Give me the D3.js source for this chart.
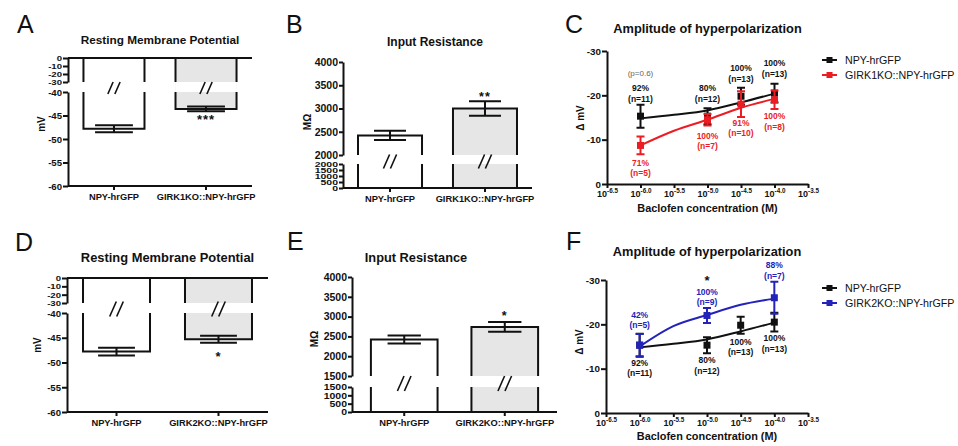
<!DOCTYPE html>
<html><head><meta charset="utf-8">
<script src="https://cdn.jsdelivr.net/npm/d3@7"></script>
<style>body{margin:0;background:#fff}svg{display:block}</style>
</head><body><script>
// ---------------- DATA ----------------
const rmpCatsA = ["NPY-hrGFP", "GIRK1KO::NPY-hrGFP"];
const rmpMeanA = [-47.8, -43.6];
const rmpSemA  = [0.75, 0.5];
const rmpCatsD = ["NPY-hrGFP", "GIRK2KO::NPY-hrGFP"];
const rmpMeanD = [-47.8, -45.3];
const rmpSemD  = [0.8, 0.7];
const rmpTicksUpper = [0, -10, -20, -30];
const rmpTicksLower = [-40, -45, -50, -55, -60];

const rinCatsB = ["NPY-hrGFP", "GIRK1KO::NPY-hrGFP"];
const rinMeanB = [2420, 3000];
const rinSemB  = [100, 155];
const rinCatsE = ["NPY-hrGFP", "GIRK2KO::NPY-hrGFP"];
const rinMeanE = [2420, 2740];
const rinSemE  = [100, 125];
const rinTicksUpperB = [2000, 2500, 3000, 3500, 4000];
const rinTicksLowerB = [0, 500, 1000, 1500, 2000];
const rinTicksUpperE = [1500, 2000, 2500, 3000, 3500, 4000];
const rinTicksLowerE = [0, 500, 1000, 1500];

const logConc   = [-6.0, -5.0, -4.5, -4.0];
const ampNpy    = [-15.3, -15.3, -19.8, -20.5];
const semNpy    = [2.6, 1.8, 1.9, 2.1];
const ampGirk1  = [-8.7, -14.5, -18.0, -19.0];
const semGirk1  = [2.0, 1.3, 2.9, 2.1];
const logConcG2 = [-6.0, -5.0, -4.0];
const ampGirk2  = [-15.3, -22.0, -26.0];
const semGirk2  = [2.5, 1.7, 3.6];
const fitConc   = [-6.0, -5.5, -5.0, -4.5, -4.0];
const fitNpy    = [-14.8, -15.6, -16.6, -18.4, -20.4];
const fitGirk1  = [-8.7, -12.0, -14.5, -17.2, -19.2];
const fitGirk2  = [-15.0, -19.6, -22.1, -24.4, -25.8];
const xTickExp  = [-6.5, -6.0, -5.5, -5.0, -4.5, -4.0, -3.5];
const ampTicks  = [0, -10, -20, -30];

// ---------------- STYLE ----------------
const FONT = "'Liberation Sans', Arial, Helvetica, sans-serif";
const INK = "#111";
const RED = "#ec1c24";
const BLUE = "#2323b9";
const GREYFILL = "#e6e6e6";

const svg = d3.select("body").append("svg").attr("width", 958).attr("height", 446);

function txt(g, x, y, s, o = {}) {
  return g.append("text").attr("x", x).attr("y", y).text(s)
    .attr("font-family", FONT).attr("font-size", o.size || 10)
    .attr("font-weight", o.weight || "bold")
    .attr("letter-spacing", o.ls || 0)
    .attr("text-anchor", o.anchor || "middle").attr("fill", o.fill || INK);
}
function vtxt(g, x, y, s, o = {}) {
  return g.append("text").attr("transform", `translate(${x},${y}) rotate(-90)`)
    .attr("text-anchor", "middle").attr("dominant-baseline", "central")
    .attr("font-family", FONT).attr("font-size", o.size || 10)
    .attr("font-weight", o.weight || "bold").attr("fill", INK).text(s);
}
function styleAxis(sel, fs, squash) {
  sel.selectAll("path,line").attr("stroke", INK).attr("stroke-width", 2);
  const t = sel.selectAll("text").attr("font-family", FONT).attr("font-size", fs)
    .attr("font-weight", "bold").attr("fill", INK);
  if (squash) t.attr("transform", `scale(1,${squash})`);
}
function slashes(g, cx, cy, h) {
  [-3.5, 3.5].forEach(o => {
    g.append("line").attr("x1", cx + o - h * 0.22).attr("y1", cy + h / 2)
      .attr("x2", cx + o + h * 0.22).attr("y2", cy - h / 2)
      .attr("stroke", INK).attr("stroke-width", 1.6);
  });
}
function letter(x, y, s) { txt(svg, x, y, s, { size: 25, weight: "normal", anchor: "start" }); }

// ---------------- RMP (hanging bars, broken axis) ----------------
function rmpPanel(cfg, cats, means, sems) {
  const g = svg.append("g");
  const x = d3.scaleBand().domain(cats).range([cfg.x0, cfg.x1])
    .paddingInner(cfg.pi).paddingOuter(cfg.po);
  const yU = d3.scaleLinear().domain([0, -30]).range([cfg.yTop, cfg.yB1]);
  const yL = d3.scaleLinear().domain([-40, -60]).range([cfg.yB2, cfg.yBot]);
  cats.forEach((c, i) => {
    const bx = x(c), bw = x.bandwidth(), yv = yL(means[i]), cx = bx + bw / 2;
    if (i === 1) {
      g.append("rect").attr("x", bx).attr("y", yU(0)).attr("width", bw)
        .attr("height", yv - yU(0)).attr("fill", GREYFILL);
      g.append("rect").attr("x", bx).attr("y", yU(-30)).attr("width", bw)
        .attr("height", yL(-40) - yU(-30)).attr("fill", "#fff");
    }
    g.append("path").attr("fill", "none").attr("stroke", INK).attr("stroke-width", 2)
      .attr("d", `M${bx},${yU(0)}V${yU(-30)}M${bx},${yL(-40)}V${yv}H${bx + bw}V${yL(-40)}M${bx + bw},${yU(-30)}V${yU(0)}`);
    const cw = bw * cfg.cap;
    const yHi = yL(means[i] + sems[i]), yLo = yL(means[i] - sems[i]);
    g.append("path").attr("fill", "none").attr("stroke", INK).attr("stroke-width", 2)
      .attr("d", `M${cx},${yHi}V${yLo}M${cx - cw / 2},${yHi}h${cw}M${cx - cw / 2},${yLo}h${cw}`);
    slashes(g, cx, (yU(-30) + yL(-40)) / 2 + 1, cfg.slashH);
    if (i === 1) txt(g, cx, yLo + cfg.starOff, cfg.star, { size: 13, ls: 1 });
  });
  g.append("line").attr("x1", cfg.x0).attr("x2", cfg.x1).attr("y1", yU(0)).attr("y2", yU(0))
    .attr("stroke", INK).attr("stroke-width", 2);
  const xa = g.append("g").attr("transform", `translate(0,${cfg.yBot})`)
    .call(d3.axisBottom(x).tickSize(4).tickSizeOuter(0).tickFormat(""));
  xa.select(".domain").attr("d", `M${cfg.x0},0H${cfg.x1}`);
  styleAxis(xa, 9);
  cats.forEach(c => txt(g, x(c) + x.bandwidth() / 2, cfg.yBot + 13.5, c, { size: 9.3 }));
  const f = d => String(d);
  const ay1 = g.append("g").attr("transform", `translate(${cfg.x0},0)`)
    .call(d3.axisLeft(yU).tickValues(rmpTicksUpper).tickFormat(f).tickSize(5).tickPadding(1).tickSizeOuter(0));
  const ay2 = g.append("g").attr("transform", `translate(${cfg.x0},0)`)
    .call(d3.axisLeft(yL).tickValues(rmpTicksLower).tickFormat(f).tickSize(5).tickPadding(1).tickSizeOuter(0));
  styleAxis(ay1, 9.6, cfg.squash); styleAxis(ay2, 9.6);
  txt(g, (cfg.x0 + cfg.x1) / 2, cfg.titleY, "Resting Membrane Potential", { size: cfg.titleSize });
  vtxt(g, cfg.labelX, cfg.labelY, "mV", { size: 10 });
}

// ---------------- Input resistance (broken axis) ----------------
function rinPanel(cfg, cats, means, sems, ticksU, ticksL) {
  const g = svg.append("g");
  const x = d3.scaleBand().domain(cats).range([cfg.x0, cfg.x1])
    .paddingInner(cfg.pi).paddingOuter(cfg.po);
  const yU = d3.scaleLinear().domain([cfg.brk, 4000]).range([cfg.yB1, cfg.yTop]);
  const yL = d3.scaleLinear().domain([0, cfg.brk]).range([cfg.yBot, cfg.yB2]);
  const gapTop = yU(cfg.brk), gapBot = yL(cfg.brk);
  cats.forEach((c, i) => {
    const bx = x(c), bw = x.bandwidth(), yv = yU(means[i]), cx = bx + bw / 2;
    if (i === 1) {
      g.append("rect").attr("x", bx).attr("y", yv).attr("width", bw)
        .attr("height", yL(0) - yv).attr("fill", GREYFILL);
      g.append("rect").attr("x", bx).attr("y", gapTop).attr("width", bw)
        .attr("height", gapBot - gapTop).attr("fill", "#fff");
    }
    g.append("path").attr("fill", "none").attr("stroke", INK).attr("stroke-width", 2)
      .attr("d", `M${bx},${yL(0)}V${gapBot}M${bx},${gapTop}V${yv}H${bx + bw}V${gapTop}M${bx + bw},${gapBot}V${yL(0)}`);
    const cw = bw * cfg.cap;
    const yHi = yU(means[i] + sems[i]), yLo = yU(means[i] - sems[i]);
    g.append("path").attr("fill", "none").attr("stroke", INK).attr("stroke-width", 2)
      .attr("d", `M${cx},${yHi}V${yLo}M${cx - cw / 2},${yHi}h${cw}M${cx - cw / 2},${yLo}h${cw}`);
    slashes(g, cx, (gapTop + gapBot) / 2 + 2, cfg.slashH);
    if (i === 1) txt(g, cx, yHi + cfg.starOff, cfg.star, { size: 12.5, ls: 1 });
  });
  const xa = g.append("g").attr("transform", `translate(0,${cfg.yBot})`)
    .call(d3.axisBottom(x).tickSize(4).tickSizeOuter(0).tickFormat(""));
  xa.select(".domain").attr("d", `M${cfg.x0},0H${cfg.x1}`);
  styleAxis(xa, 9);
  cats.forEach(c => txt(g, x(c) + x.bandwidth() / 2, cfg.yBot + 13.5, c, { size: 9.3 }));
  const f = d => String(d);
  const ay1 = g.append("g").attr("transform", `translate(${cfg.x0},0)`)
    .call(d3.axisLeft(yU).tickValues(ticksU).tickFormat(f).tickSize(4).tickPadding(1).tickSizeOuter(0));
  const ay2 = g.append("g").attr("transform", `translate(${cfg.x0},0)`)
    .call(d3.axisLeft(yL).tickValues(ticksL).tickFormat(f).tickSize(4).tickPadding(1).tickSizeOuter(0));
  styleAxis(ay1, 10.5); styleAxis(ay2, 10.5, cfg.squash);
  txt(g, cfg.titleX, cfg.titleY, "Input Resistance", { size: cfg.titleSize });
  vtxt(g, cfg.labelX, cfg.labelY, "MΩ", { size: 10 });
}

// ---------------- Amplitude (dose response) ----------------
function ampPanel(cfg, series, notes) {
  const g = svg.append("g");
  const x = d3.scaleLinear().domain([-6.5, -3.5]).range([cfg.x0, cfg.x1]);
  const y = d3.scaleLinear().domain([0, -30]).range([cfg.yBot, cfg.yTop]);
  const xa = g.append("g").attr("transform", `translate(0,${cfg.yBot})`)
    .call(d3.axisBottom(x).tickValues(xTickExp).tickSize(4).tickSizeOuter(0).tickFormat(""));
  styleAxis(xa, 9);
  xa.selectAll(".tick").each(function (d) {
    const t = d3.select(this).append("text").attr("y", cfg.tickLabelDy).attr("x", 0)
      .attr("text-anchor", "middle").attr("font-family", FONT).attr("font-weight", "bold").attr("fill", INK);
    t.append("tspan").attr("font-size", 9).text("10");
    t.append("tspan").attr("font-size", 6.3).attr("dy", -4).text(d.toFixed(1));
  });
  const ya = g.append("g").attr("transform", `translate(${cfg.x0},0)`)
    .call(d3.axisLeft(y).tickValues(ampTicks).tickFormat(d => String(d)).tickSize(5).tickPadding(1).tickSizeOuter(0));
  styleAxis(ya, 9.8);
  const line = d3.line().x(d => x(d[0])).y(d => y(d[1])).curve(d3.curveMonotoneX);
  series.forEach(s => {
    g.append("path").datum(fitConc.map((c, i) => [c, s.fit[i]]))
      .attr("d", line).attr("fill", "none").attr("stroke", s.color).attr("stroke-width", 2);
  });
  series.forEach(s => {
    s.conc.forEach((c, i) => {
      const cx = x(c), yHi = y(s.mean[i] - s.sem[i]), yLo = y(s.mean[i] + s.sem[i]);
      g.append("path").attr("fill", "none").attr("stroke", s.color).attr("stroke-width", 2)
        .attr("d", `M${cx},${yHi}V${yLo}M${cx - 4},${yHi}h8M${cx - 4},${yLo}h8`);
      g.append("rect").attr("x", cx - 3.5).attr("y", y(s.mean[i]) - 3.5)
        .attr("width", 7).attr("height", 7).attr("fill", s.color);
    });
  });
  notes.forEach(n => txt(g, x(n.c), y(n.v), n.t,
    { size: n.size || 8.5, fill: n.fill || INK, weight: n.weight || "bold" }));
  txt(g, (cfg.x0 + cfg.x1) / 2, cfg.titleY, "Amplitude of hyperpolarization", { size: 12.8 });
  txt(g, (cfg.x0 + cfg.x1) / 2, cfg.xlabelY, "Baclofen concentration (M)", { size: 10.9 });
  vtxt(g, cfg.ylabelX, cfg.ylabelY, "Δ mV", { size: 10 });
  series.forEach((s, i) => {
    const ly = cfg.legendY + i * 15;
    g.append("line").attr("x1", 822).attr("x2", 837).attr("y1", ly).attr("y2", ly)
      .attr("stroke", s.color).attr("stroke-width", 2);
    g.append("rect").attr("x", 826.5).attr("y", ly - 3).attr("width", 6).attr("height", 6).attr("fill", s.color);
    txt(g, 845, ly + 4, s.name, { size: 10.7, weight: "normal", anchor: "start" });
  });
}

// ---------------- BUILD ----------------
letter(17, 33, "A"); letter(286, 33, "B"); letter(565, 33, "C");
letter(15, 251, "D"); letter(287, 250, "E"); letter(566, 250, "F");

rmpPanel({ x0: 68, x1: 252, pi: 0.337, po: 0.168, yTop: 58, yB1: 82, yB2: 92, yBot: 186, squash: 0.8,
  cap: 0.62, slashH: 12, star: "***", starOff: 13, titleY: 44, titleSize: 11.8, labelX: 41, labelY: 124 },
  rmpCatsA, rmpMeanA, rmpSemA);
rmpPanel({ x0: 67, x1: 268, pi: 0.343, po: 0.157, yTop: 278, yB1: 303, yB2: 313, yBot: 412, squash: 0.82,
  cap: 0.55, slashH: 15, star: "*", starOff: 18, titleY: 262, titleSize: 12.9, labelX: 37.5, labelY: 345 },
  rmpCatsD, rmpMeanD, rmpSemD);

rinPanel({ x0: 343, x1: 532, pi: 0.326, po: 0.158, brk: 2000, yTop: 62, yB1: 155, yB2: 164, yBot: 188, squash: 0.6,
  cap: 0.5, slashH: 14, star: "**", starOff: 0, titleX: 435, titleY: 46, titleSize: 12, labelX: 307, labelY: 122 },
  rinCatsB, rinMeanB, rinSemB, rinTicksUpperB, rinTicksLowerB);
rinPanel({ x0: 352, x1: 557, pi: 0.337, po: 0.188, brk: 1500, yTop: 277, yB1: 376, yB2: 387, yBot: 412, squash: 0.8,
  cap: 0.5, slashH: 15, star: "*", starOff: -2, titleX: 416, titleY: 262, titleSize: 12.8, labelX: 314, labelY: 339 },
  rinCatsE, rinMeanE, rinSemE, rinTicksUpperE, rinTicksLowerE);

const npySeries = { name: "NPY-hrGFP", color: INK, conc: logConc, mean: ampNpy, sem: semNpy, fit: fitNpy };
ampPanel({ x0: 607, x1: 808, yTop: 51, yBot: 184, tickLabelDy: 13, titleY: 33, xlabelY: 212,
  ylabelX: 580, ylabelY: 118, legendY: 60 },
  [npySeries,
   { name: "GIRK1KO::NPY-hrGFP", color: RED, conc: logConc, mean: ampGirk1, sem: semGirk1, fit: fitGirk1 }],
  [
    { c: -6, v: -24.4, t: "(p=0.6)", fill: "#666", weight: "normal", size: 8 },
    { c: -6, v: -21.0, t: "92%" }, { c: -6, v: -18.5, t: "(n=11)" },
    { c: -5, v: -21.0, t: "80%" }, { c: -5, v: -18.5, t: "(n=12)" },
    { c: -4.5, v: -25.5, t: "100%" }, { c: -4.5, v: -23.0, t: "(n=13)" },
    { c: -4, v: -26.6, t: "100%" }, { c: -4, v: -24.2, t: "(n=13)" },
    { c: -6, v: -4.1, t: "71%", fill: RED }, { c: -6, v: -1.8, t: "(n=5)", fill: RED },
    { c: -5, v: -10.2, t: "100%", fill: RED }, { c: -5, v: -7.9, t: "(n=7)", fill: RED },
    { c: -4.5, v: -13.1, t: "91%", fill: RED }, { c: -4.5, v: -10.8, t: "(n=10)", fill: RED },
    { c: -4, v: -14.7, t: "100%", fill: RED }, { c: -4, v: -12.2, t: "(n=8)", fill: RED }
  ]);
ampPanel({ x0: 606, x1: 808, yTop: 280, yBot: 413, tickLabelDy: 13, titleY: 256, xlabelY: 440,
  ylabelX: 579, ylabelY: 342, legendY: 288 },
  [npySeries,
   { name: "GIRK2KO::NPY-hrGFP", color: BLUE, conc: logConcG2, mean: ampGirk2, sem: semGirk2, fit: fitGirk2 }],
  [
    { c: -6, v: -21.4, t: "42%", fill: BLUE }, { c: -6, v: -19.2, t: "(n=5)", fill: BLUE },
    { c: -5, v: -28.9, t: "*", size: 13 },
    { c: -5, v: -26.6, t: "100%", fill: BLUE }, { c: -5, v: -24.4, t: "(n=9)", fill: BLUE },
    { c: -4, v: -32.7, t: "88%", fill: BLUE }, { c: -4, v: -30.2, t: "(n=7)", fill: BLUE },
    { c: -6, v: -10.6, t: "92%" }, { c: -6, v: -8.3, t: "(n=11)" },
    { c: -5, v: -11.3, t: "80%" }, { c: -5, v: -8.8, t: "(n=12)" },
    { c: -4.5, v: -15.3, t: "100%" }, { c: -4.5, v: -13.1, t: "(n=13)" },
    { c: -4, v: -16.2, t: "100%" }, { c: -4, v: -13.8, t: "(n=13)" }
  ]);
</script></body></html>
